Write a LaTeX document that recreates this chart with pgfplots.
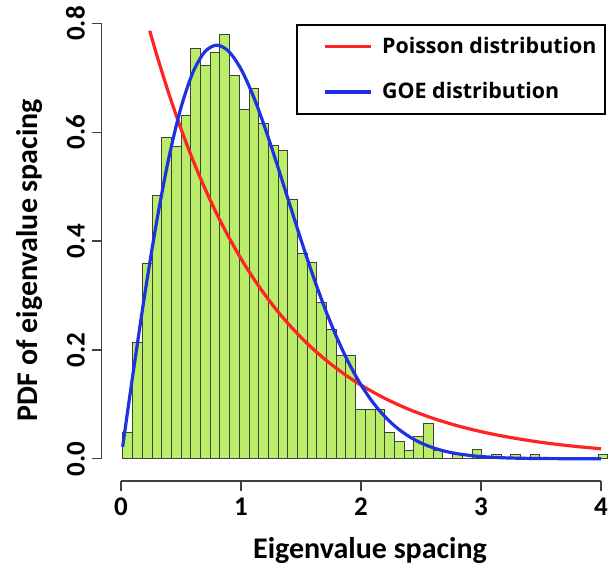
\documentclass[border=0pt]{standalone}
\usepackage{pgfplots}
\pgfplotsset{compat=1.18}
\usepackage{fontspec}
\setmainfont{Carlito}
\newfontfamily\osans{Open Sans}
\definecolor{barfill}{RGB}{187,238,104}
\definecolor{poisred}{RGB}{255,35,35}
\definecolor{goeblue}{RGB}{30,50,225}
\begin{document}
\begin{tikzpicture}
\begin{axis}[
 scale only axis, width=257.1pt, height=240.5pt,
 xmin=-0.16, xmax=4.125, ymin=-0.041, ymax=0.8432,
 axis x line*=bottom, axis y line*=left,
 axis line style={draw=none},
 tick align=outside, major tick length=5pt,
 tick style={black!75, line width=0.7pt},
 xtick={0,1,2,3,4}, ytick={0,0.2,0.4,0.6,0.8},
 yticklabels={0.0,0.2,0.4,0.6,0.8},
 /pgf/number format/assume math mode=true,
 ticklabel style={font=\bfseries\fontsize{13.5}{14}\selectfont},
 yticklabel style={rotate=90, anchor=south},
 xlabel={Eigenvalue spacing}, ylabel={PDF of eigenvalue spacing},
 label style={font=\bfseries\fontsize{15}{16}\selectfont},
 xlabel style={at={(axis description cs:0.5216,-0.1434)}, anchor=center},
 ylabel style={at={(axis description cs:-0.1396,0.4595)}, anchor=center},
 clip=false,
 legend style={at={(axis cs:1.458,0.799)}, anchor=north west, draw=black, line width=1pt,
   font=\osans\bfseries\fontsize{10.7}{12}\selectfont, inner xsep=2pt, inner ysep=4pt,
   row sep=9pt, cells={anchor=west}},
 legend cell align=left,
 legend image code/.code={\draw[#1, opacity=0] (0pt,0pt) -- (11pt,0pt); \draw[#1] (11pt,0pt) -- (34pt,0pt); \draw[#1, opacity=0] (34pt,0pt) -- (37pt,0pt);},
]
\addplot[ybar interval, fill=barfill, draw=black!75, line width=0.5pt, forget plot] coordinates {
(0.0167,0.048) (0.0975,0.213) (0.1783,0.359) (0.2591,0.483) (0.3399,0.590)
(0.4207,0.574) (0.5015,0.631) (0.5823,0.754) (0.6631,0.722) (0.7439,0.747)
(0.8247,0.780) (0.9055,0.705) (0.9863,0.641) (1.0671,0.681) (1.1479,0.617)
(1.2287,0.575) (1.3095,0.566) (1.3903,0.477) (1.4711,0.378) (1.5519,0.360)
(1.6327,0.288) (1.7135,0.238) (1.7943,0.189) (1.8751,0.189) (1.9559,0.090)
(2.0367,0.090) (2.1175,0.090) (2.1983,0.048) (2.2791,0.032) (2.3599,0.016)
(2.4407,0.041) (2.5215,0.064) (2.6023,0.016) (2.6831,0) (2.7639,0.008)
(2.8447,0) (2.9255,0.017) (3.0063,0) (3.0871,0.0086) (3.1679,0)
(3.2487,0.0086) (3.3295,0) (3.4103,0.0086) (3.4911,0) (3.5719,0)
(3.6527,0) (3.7335,0) (3.8143,0) (3.8951,0) (3.9759,0.0086) (4.0567,0.0086)
};
\addplot[poisred, line width=1.6pt, smooth] coordinates {
(0.24,0.7866) (0.3,0.7408) (0.4,0.6703) (0.5,0.6065) (0.6,0.5488) (0.7,0.4966)
(0.8,0.4493) (0.9,0.4066) (1.0,0.3679) (1.1,0.3329) (1.2,0.3012) (1.3,0.2725)
(1.4,0.2466) (1.5,0.2231) (1.6,0.2019) (1.7,0.1827) (1.8,0.1653) (1.9,0.1496)
(2.0,0.1353) (2.2,0.1108) (2.4,0.0907) (2.6,0.0743) (2.8,0.0608) (3.0,0.0498)
(3.2,0.0408) (3.4,0.0334) (3.6,0.0273) (3.8,0.0224) (4.0,0.0183)
};
\addlegendentry{Poisson distribution}
\addplot[goeblue, line width=1.6pt, smooth] coordinates {
(0.014,0.0220) (0.1,0.1559) (0.2,0.3044) (0.3,0.4391) (0.4,0.5541) (0.5,0.6454)
(0.6,0.7104) (0.7,0.7483) (0.8,0.7602) (0.9,0.7483) (1.0,0.7162) (1.1,0.6680)
(1.2,0.6083) (1.3,0.5415) (1.4,0.4718) (1.5,0.4025) (1.6,0.3365) (1.7,0.2759)
(1.8,0.2220) (1.9,0.1752) (2.0,0.1358) (2.1,0.1033) (2.2,0.0772) (2.3,0.0567)
(2.4,0.0409) (2.5,0.0290) (2.6,0.0202) (2.7,0.0138) (2.8,0.0093) (2.9,0.0062)
(3.0,0.0040) (3.2,0.0016) (3.4,0.0006) (3.6,0.0002) (3.8,0.0000) (4.0,0.0000)
};
\addlegendentry{GOE distribution}
\draw[black!75, line width=0.7pt] (axis cs:0,-0.041) -- (axis cs:4,-0.041);
\draw[black!75, line width=0.7pt] (axis cs:-0.16,0) -- (axis cs:-0.16,0.8);
\coordinate (bl) at (axis cs:-1.008,-0.199);
\coordinate (tr) at (axis cs:4.125,0.8432);
\end{axis}
\pgfresetboundingbox
\path[use as bounding box] (bl) rectangle (tr);
\end{tikzpicture}
\end{document}
